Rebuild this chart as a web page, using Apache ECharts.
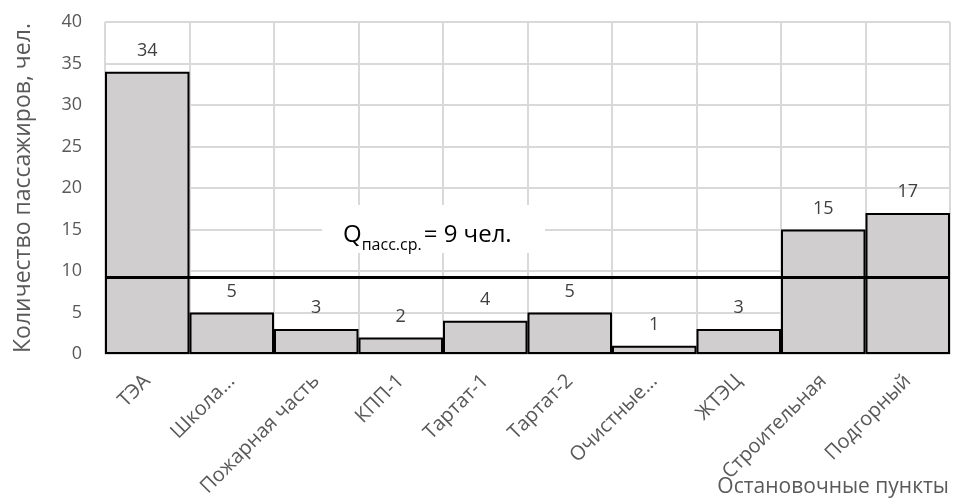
<!DOCTYPE html>
<html><head><meta charset="utf-8">
<script src="https://cdn.jsdelivr.net/npm/echarts@6/dist/echarts.min.js"></script>
<style>html,body{margin:0;padding:0;background:#fff}#c{width:976px;height:503px}</style>
</head><body><div id="c"></div>
<script>
const categories = ['ТЭА','Школа...','Пожарная часть','КПП-1','Тартат-1','Тартат-2','Очистные...','ЖТЭЦ','Строительная','Подгорный'];
const passengers = [34,5,3,2,4,5,1,3,15,17];
const averageLine = [9.3];
const yTicks = {min:0, max:40, interval:5};
const xAxisTitle = 'Остановочные пункты';
const yAxisTitle = 'Количество пассажиров, чел.';
const FONT = 'Open Sans';
const annParts = ['Q','пасс.ср.','= 9 чел.'];
const annSizes = [24,16,24];

const ctx = document.createElement('canvas').getContext('2d');
function w(t,s){ctx.font = s+'px "'+FONT+'"'; return ctx.measureText(t).width;}
const baseY = 42;
let xPos = 21;
const annEls = [];
annParts.forEach((t,i)=>{
  annEls.push({type:'text', z:101, x:xPos, y: baseY + (i===1?6:0), style:{text:t, fontSize:annSizes[i], fontFamily:FONT, fill:'#000', verticalAlign:'bottom'}});
  xPos += w(t,annSizes[i]) + (i===1?2:0);
});

const chart = echarts.init(document.getElementById('c'));
chart.setOption({
  animation:false,
  textStyle:{fontFamily:FONT},
  grid:{left:105,right:26,top:22,bottom:149,containLabel:false,outerBoundsMode:'none'},
  xAxis:{
    type:'category', data:categories,
    axisLine:{lineStyle:{color:'#d9d9d9'}},
    axisTick:{show:false},
    splitLine:{show:true,lineStyle:{color:'#d9d9d9',width:2}},
    axisLabel:{rotate:45,color:'#595959',fontSize:20,fontFamily:FONT,margin:24,interval:0}
  },
  yAxis:{
    type:'value', min:yTicks.min, max:yTicks.max, interval:yTicks.interval,
    axisLine:{show:false}, axisTick:{show:false},
    splitLine:{lineStyle:{color:'#d9d9d9',width:2}},
    axisLabel:{color:'#595959',fontSize:18,fontFamily:FONT,margin:23},
    name:yAxisTitle, nameLocation:'middle', nameGap:70, nameRotate:90,
    nameTextStyle:{color:'#595959',fontSize:23,fontFamily:FONT}
  },
  series:[{
    type:'bar', data:passengers, barCategoryGap:'0%',
    itemStyle:{color:'#d0cece',borderColor:'#000',borderWidth:2},
    label:{show:true,position:'top',distance:12,color:'#404040',fontSize:18,fontFamily:FONT},
    markLine:{
      silent:true, symbol:['none','none'], label:{show:false},
      lineStyle:{color:'#000',width:3,type:'solid'},
      data:[{yAxis:averageLine[0]}]
    },
    z:2
  }],
  graphic:[{
    type:'group', left:322, top:205, z:100,
    children:[{type:'rect', z:100, shape:{x:0,y:0,width:223,height:48}, style:{fill:'#fff'}}].concat(annEls)
  },{
    type:'text', right:27, top:477, z:100,
    style:{text:xAxisTitle, fontSize:21, fontFamily:FONT, fill:'#595959'}
  }]
});
</script></body></html>
